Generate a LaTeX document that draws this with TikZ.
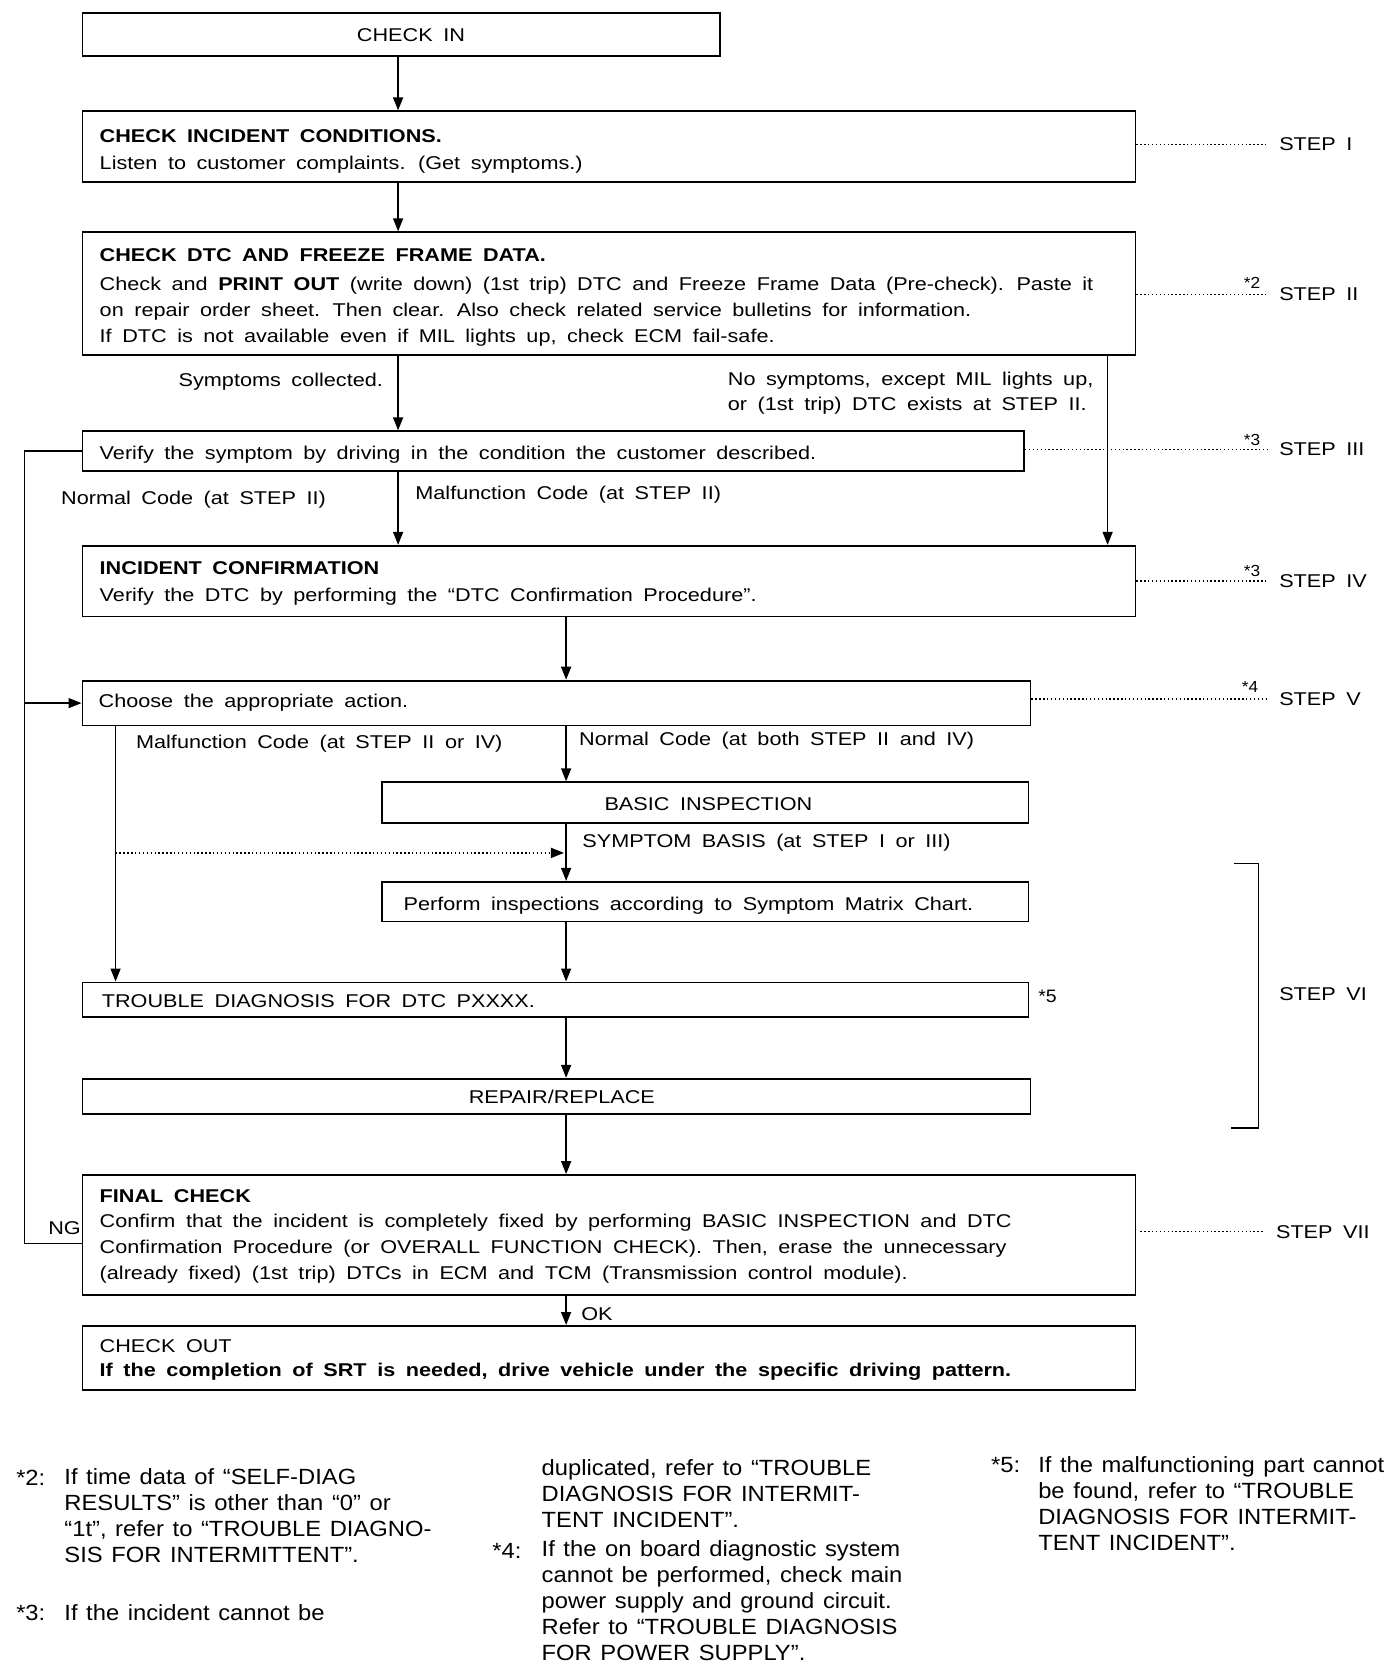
\documentclass[tikz,border=0pt]{standalone}
\usepackage{fontspec}
\setmainfont{Liberation Sans}[FakeStretch=1.17, WordSpace=1.75]
\newfontfamily\notefont{Liberation Sans}[FakeStretch=1.08, WordSpace=1.3]
\usetikzlibrary{arrows.meta,fit}
\newcommand\mainfs{\fontsize{18.5pt}{26.2pt}\selectfont}
\newcommand\notefs{\notefont\fontsize{22pt}{26pt}\selectfont}
\begin{document}
\begin{tikzpicture}[x=1.07pt,y=-1.07pt,
  box/.style={draw, line width=1.8pt, inner sep=0pt, fit={#1}},
  txt/.style={anchor=base west, inner sep=0pt, align=left, font=\mainfs},
  ctxt/.style={anchor=base, inner sep=0pt, font=\mainfs},
  note/.style={anchor=base west, inner sep=0pt, align=left, font=\notefs},
  steplbl/.style={anchor=west, inner xsep=12pt, inner ysep=0pt, font=\mainfs},
  star/.style={anchor=base, inner sep=0pt, font=\notefont\fontsize{16pt}{18pt}\selectfont},
  arr/.style={-{Triangle[length=13pt,width=10pt]}, line width=1.5pt},
  conn/.style={line width=1.5pt},
  dots/.style={line width=1.4pt, dash pattern=on 1.4pt off 2.5pt},
  dotarr/.style={line width=1.4pt, dash pattern=on 1.4pt off 2.5pt, -{Triangle[length=13pt,width=10pt]}}
]
\fill[white] (0,0) rectangle (1301,1568);
\useasboundingbox (0,0) rectangle (1301,1568);

% boxes
\node[box={(77,12) (673,52)}] (checkin) {};
\node[box={(77,104) (1061,170)}] (incident) {};
\node[box={(77,217) (1061,332)}] (dtc) {};
\node[box={(77,403) (957,440)}] (verify) {};
\node[box={(77,510) (1061,576)}] (confirm) {};
\node[box={(77,636) (963,678)}] (choose) {};
\node[box={(357,731) (961,769)}] (basic) {};
\node[box={(357,824) (961,861)}] (perform) {};
\node[box={(77,918) (961,950)}] (trouble) {};
\node[box={(77,1008) (963,1041)}] (repair) {};
\node[box={(77,1098) (1061,1210)}] (final) {};
\node[box={(77,1239) (1061,1299)}] (checkout) {};

% box texts (multi-line nodes are anchored at the baseline of their last line)
\node[ctxt] (t0) at (384,39) {CHECK IN};
\node[txt] (t1) at (93,158) {\textbf{CHECK INCIDENT CONDITIONS.}\\[0.5pt]
  Listen to customer complaints. (Get symptoms.)};
\node[txt] (t2) at (93,320) {\textbf{CHECK DTC AND FREEZE FRAME DATA.}\\[2.6pt]
  Check and \textbf{PRINT OUT} (write down) (1st trip) DTC and Freeze Frame Data (Pre-check). Paste it\\
  on repair order sheet. Then clear. Also check related service bulletins for information.\\
  If DTC is not available even if MIL lights up, check ECM fail-safe.};
\node[txt] (t3) at (93,429) {Verify the symptom by driving in the condition the customer described.};
\node[txt] (t4) at (93,562) {\textbf{INCIDENT CONFIRMATION}\\[0.5pt]
  Verify the DTC by performing the “DTC Confirmation Procedure”.};
\node[txt] (t5) at (92,661) {Choose the appropriate action.};
\node[ctxt] (t6) at (662,757) {BASIC INSPECTION};
\node[txt] (t7) at (377,851) {Perform inspections according to Symptom Matrix Chart.};
\node[txt] (t8) at (95,941) {TROUBLE DIAGNOSIS FOR DTC PXXXX.};
\node[ctxt] (t9) at (525,1031) {REPAIR/REPLACE};
\node[txt] (t10) at (93,1196) {\textbf{FINAL CHECK}\\[-1.6pt]
  Confirm that the incident is completely fixed by performing BASIC INSPECTION and DTC\\
  Confirmation Procedure (or OVERALL FUNCTION CHECK). Then, erase the unnecessary\\
  (already fixed) (1st trip) DTCs in ECM and TCM (Transmission control module).};
\node[txt] (t11) at (93,1286) {CHECK OUT\\[-2.7pt]
  \textbf{If the completion of SRT is needed, drive vehicle under the specific driving pattern.}};

% connector labels
\node[anchor=base east, inner sep=0pt, font=\mainfs] (l1) at (358,361) {Symptoms collected.};
\node[txt] (l2) at (680,384) {No symptoms, except MIL lights up,\\[-0.5pt] or (1st trip) DTC exists at STEP II.};
\node[txt] (l3) at (57,471) {Normal Code (at STEP II)};
\node[txt] (l4) at (388,467) {Malfunction Code (at STEP II)};
\node[txt] (l5) at (127,699) {Malfunction Code (at STEP II or IV)};
\node[txt] (l6) at (541,697) {Normal Code (at both STEP II and IV)};
\node[txt] (l7) at (544,792) {SYMPTOM BASIS (at STEP I or III)};
\node[txt] (l8) at (45,1154) {NG};
\node[txt] (l9) at (543,1234) {OK};

% connector x positions
\coordinate (xa) at (372,0);
\coordinate (xb) at (529,0);
\coordinate (xc) at (1035,0);
\coordinate (xm) at (108,0);
\coordinate (xl) at (23,0);
\coordinate (ng) at (23,1162);
\coordinate (ds) at (108,797);
\coordinate (de) at (527,797);

\draw[arr] (checkin.south -| xa) -- (incident.north -| xa);
\draw[arr] (incident.south -| xa) -- (dtc.north -| xa);
\draw[arr] (dtc.south -| xa) -- (verify.north -| xa);
\draw[arr] (dtc.south -| xc) -- (confirm.north -| xc);
\draw[arr] (verify.south -| xa) -- (confirm.north -| xa);
\draw[arr] (confirm.south -| xb) -- (choose.north -| xb);
\draw[arr] (choose.south -| xb) -- (basic.north -| xb);
\draw[arr] (basic.south -| xb) -- (perform.north -| xb);
\draw[arr] (choose.south -| xm) -- (trouble.north -| xm);
\draw[arr] (perform.south -| xb) -- (trouble.north -| xb);
\draw[arr] (trouble.south -| xb) -- (repair.north -| xb);
\draw[arr] (repair.south -| xb) -- (final.north -| xb);
\draw[arr] (final.south -| xb) -- (checkout.north -| xb);
\draw[conn] (verify.west) -- (verify.west -| xl) -- (ng) -- (ng -| final.west);
\draw[arr] (choose.west -| xl) -- (choose.west);
\draw[dotarr] (ds) -- (de);

% step labels
\node[steplbl] (s1) at (1184,135) {STEP I};
\node[steplbl] (s2) at (1184,275) {STEP II};
\node[steplbl] (s3) at (1184,420) {STEP III};
\node[steplbl] (s4) at (1184,543) {STEP IV};
\node[steplbl] (s5) at (1184,653) {STEP V};
\node[steplbl] (s6) at (1184,929) {STEP VI};
\node[steplbl] (s7) at (1181,1151) {STEP VII};
\draw[dots] (incident.east |- s1) -- (s1.west);
\draw[dots] (dtc.east |- s2) -- (s2.west);
\draw[dots] (verify.east |- s3) -- (s3.west);
\draw[dots] (confirm.east |- s4) -- (s4.west);
\draw[dots] (choose.east |- s5) -- (s5.west);
\draw[dots] ([xshift=4pt]final.east |- s7) -- (s7.west);
\node[star] (n2) at (1170,270) {*2};
\node[star] (n3a) at (1170,416) {*3};
\node[star] (n3b) at (1170,539) {*3};
\node[star] (n4) at (1168,647) {*4};
\node[anchor=base west, inner sep=0pt, font=\notefont\fontsize{18pt}{20pt}\selectfont] (n5) at (970,937) {*5};

% STEP VI bracket
\draw[conn] (1153,807) -- (1176,807) -- (1176,1054) -- (1150,1054);

% footnotes (anchored at the baseline of their last line)
\node[note] (f2k) at (15,1388) {*2:};
\node[note] (f2) at (60,1460) {If time data of “SELF-DIAG\\ RESULTS” is other than “0” or\\ “1t”, refer to “TROUBLE DIAGNO-\\ SIS FOR INTERMITTENT”.};
\node[note] (f3k) at (15,1514) {*3:};
\node[note] (f3) at (60,1514) {If the incident cannot be};
\node[note] (f3b) at (506,1427) {duplicated, refer to “TROUBLE\\ DIAGNOSIS FOR INTERMIT-\\ TENT INCIDENT”.};
\node[note] (f4k) at (460,1456) {*4:};
\node[note] (f4) at (506,1552) {If the on board diagnostic system\\ cannot be performed, check main\\ power supply and ground circuit.\\ Refer to “TROUBLE DIAGNOSIS\\ FOR POWER SUPPLY”.};
\node[note] (f5k) at (926,1376) {*5:};
\node[note] (f5) at (970,1449) {If the malfunctioning part cannot\\ be found, refer to “TROUBLE\\ DIAGNOSIS FOR INTERMIT-\\ TENT INCIDENT”.};
\end{tikzpicture}
\end{document}
